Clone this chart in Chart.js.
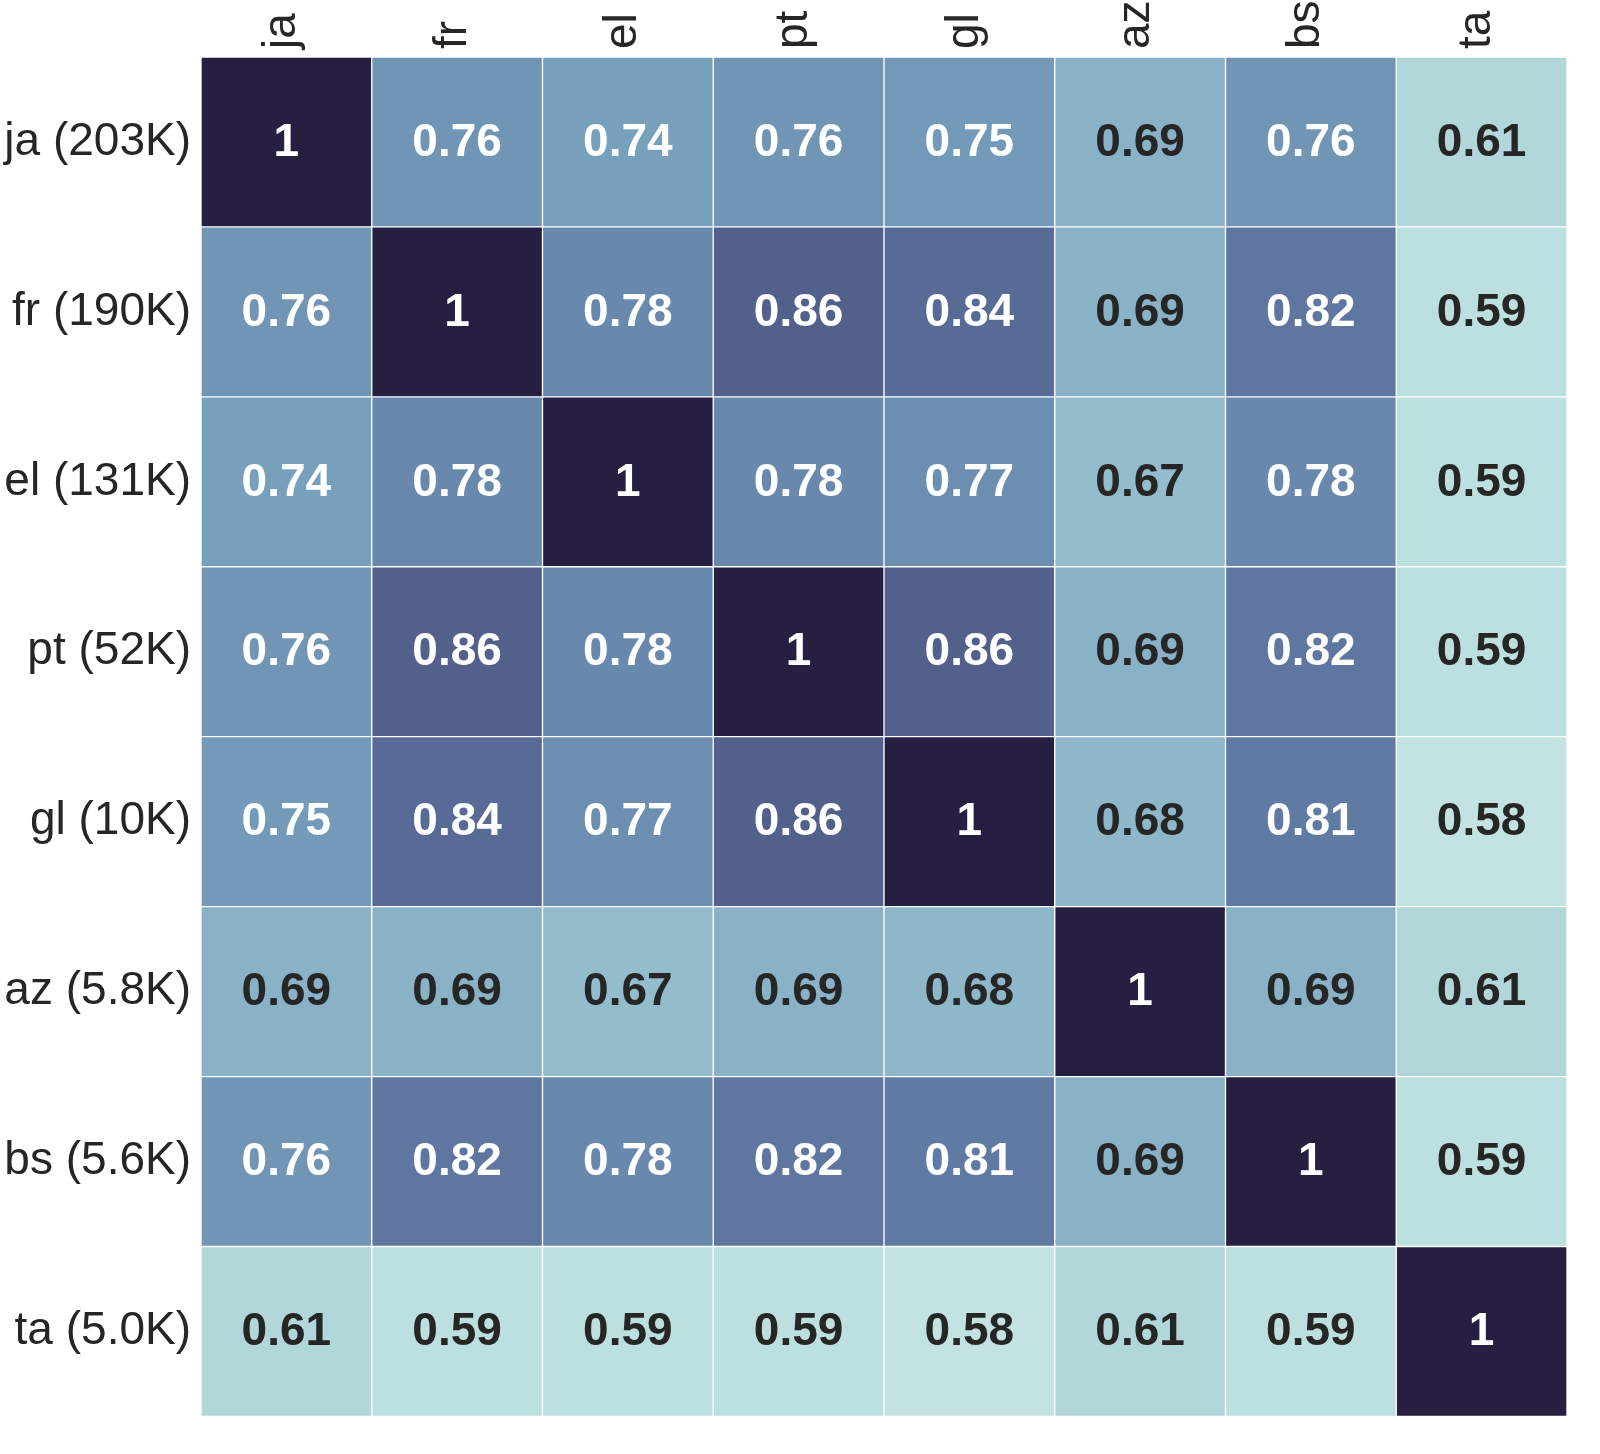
<!DOCTYPE html>
<html>
<head>
<meta charset="utf-8">
<script src="https://cdn.jsdelivr.net/npm/chart.js@4"></script>
<style>
  body { margin: 0; background: #fff; }
  canvas { display: block; }
</style>
</head>
<body>
<canvas id="heat" width="1600" height="1454"></canvas>
<script>
const colLabels = ['ja', 'fr', 'el', 'pt', 'gl', 'az', 'bs', 'ta'];
const rowLabels = ['ja (203K)', 'fr (190K)', 'el (131K)', 'pt (52K)', 'gl (10K)', 'az (5.8K)', 'bs (5.6K)', 'ta (5.0K)'];

const jaRow = [1, 0.76, 0.74, 0.76, 0.75, 0.69, 0.76, 0.61];
const frRow = [0.76, 1, 0.78, 0.86, 0.84, 0.69, 0.82, 0.59];
const elRow = [0.74, 0.78, 1, 0.78, 0.77, 0.67, 0.78, 0.59];
const ptRow = [0.76, 0.86, 0.78, 1, 0.86, 0.69, 0.82, 0.59];
const glRow = [0.75, 0.84, 0.77, 0.86, 1, 0.68, 0.81, 0.58];
const azRow = [0.69, 0.69, 0.67, 0.69, 0.68, 1, 0.69, 0.61];
const bsRow = [0.76, 0.82, 0.78, 0.82, 0.81, 0.69, 1, 0.59];
const taRow = [0.61, 0.59, 0.59, 0.59, 0.58, 0.61, 0.59, 1];
const matrix = [jaRow, frRow, elRow, ptRow, glRow, azRow, bsRow, taRow];

// colour map stops (value -> rgb)
const cmap = [
    [0.58, [194, 227, 225]],
    [0.61, [177, 215, 219]],
    [0.67, [147, 188, 204]],
    [0.69, [138, 178, 198]],
    [0.74, [119, 160, 189]],
    [0.78, [104, 137, 173]],
    [0.82, [94, 118, 160]],
    [0.86, [82, 96, 140]],
    [1.00, [38, 31, 66]]
];

const cellColor = (v) => {
    if (v <= cmap[0][0]) return `rgb(${cmap[0][1].join(',')})`;
    for (let i = 1; i < cmap.length; i++) {
        if (v <= cmap[i][0]) {
            let [v0, c0] = cmap[i - 1];
            let [v1, c1] = cmap[i];
            let t = (v - v0) / (v1 - v0);
            let c = c0.map((x, k) => Math.round(x + (c1[k] - x) * t));
            return `rgb(${c.join(',')})`;
        }
    }
    return `rgb(${cmap[cmap.length - 1][1].join(',')})`;
};

const datasets = matrix.map((row, r) => ({
    label: rowLabels[r],
    data: row.map(() => [r - 0.5, r + 0.5]),
    backgroundColor: row.map(cellColor),
    borderColor: '#ffffff',
    borderWidth: 1,
    borderSkipped: false,
    barPercentage: 1,
    categoryPercentage: 1,
    grouped: false
}));

const cellText = {
    id: 'cellText',
    afterDatasetsDraw(chart) {
        const ctx = chart.ctx;
        const xs = chart.scales.x, ys = chart.scales.y;
        ctx.save();
        ctx.font = 'bold 46px "Liberation Sans", Arial, sans-serif';
        ctx.textAlign = 'center';
        ctx.textBaseline = 'middle';
        matrix.forEach((row, r) => {
            row.forEach((v, c) => {
                ctx.fillStyle = v > 0.7 ? '#ffffff' : '#262626';
                ctx.fillText(String(v), xs.getPixelForValue(c), ys.getPixelForValue(r) + 1);
            });
        });
        ctx.restore();
    }
};

new Chart('heat', {
    type: 'bar',
    data: { labels: colLabels, datasets: datasets },
    options: {
        responsive: false,
        animation: false,
        layout: { padding: { right: 33, bottom: 31 } },
        plugins: { legend: { display: false }, tooltip: { enabled: false } },
        scales: {
            x: {
                position: 'top',
                grid: { display: false, drawTicks: false },
                border: { display: false },
                ticks: {
                    color: '#262626',
                    font: { family: '"Liberation Sans", Arial, sans-serif', size: 46 },
                    maxRotation: 90,
                    minRotation: 90,
                    labelOffset: 51,
                    padding: 8
                },
                afterFit: (s) => { s.height = 57; }
            },
            y: {
                type: 'linear',
                min: -0.5,
                max: 7.5,
                reverse: true,
                grid: { display: false, drawTicks: false },
                border: { display: false },
                afterBuildTicks: (s) => { s.ticks = rowLabels.map((_, i) => ({ value: i })); },
                ticks: {
                    color: '#262626',
                    font: { family: '"Liberation Sans", Arial, sans-serif', size: 46 },
                    padding: 10,
                    callback: (v) => rowLabels[v]
                },
                afterFit: (s) => { s.width = 201; }
            }
        }
    },
    plugins: [cellText]
});
</script>
</body>
</html>
